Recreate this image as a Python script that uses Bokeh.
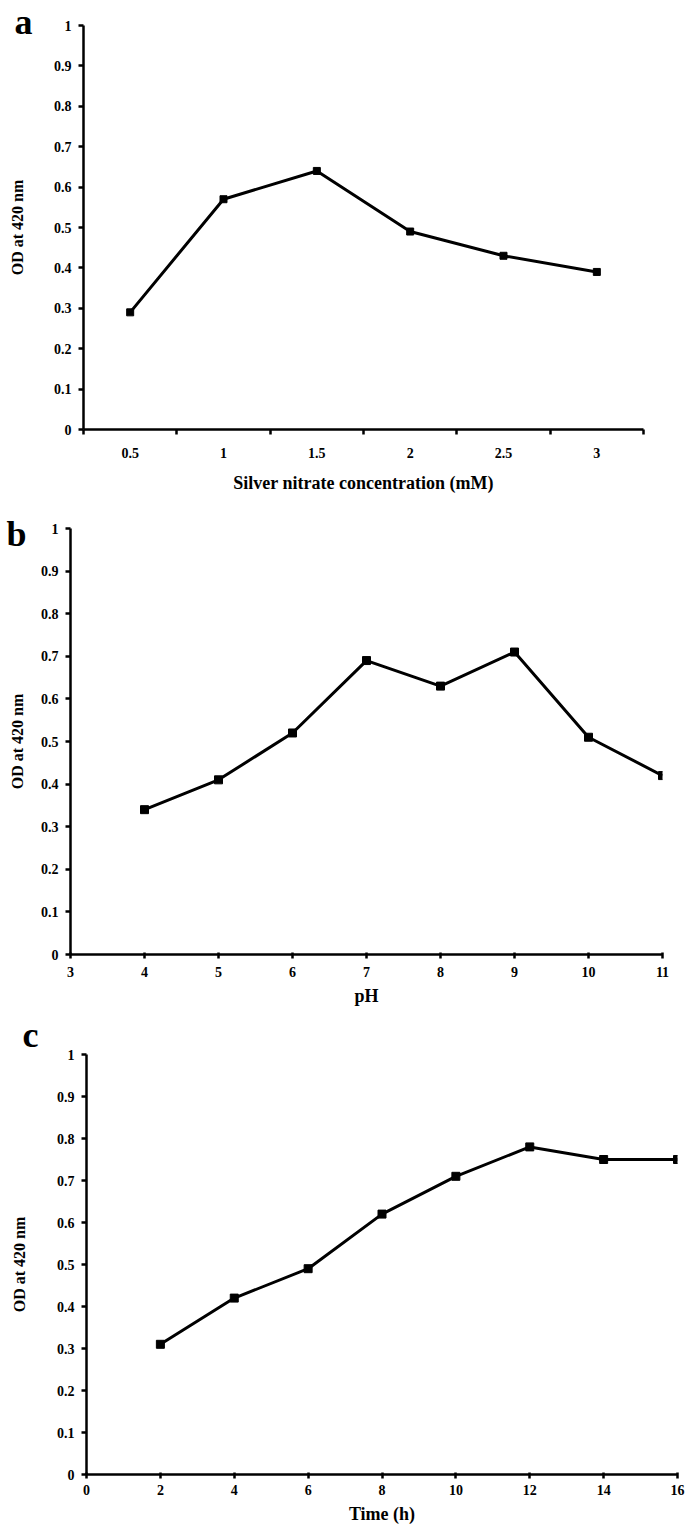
import numpy as np
from bokeh.plotting import figure
from bokeh.layouts import column, row
from bokeh.models import FixedTicker, Range1d, Title
from bokeh.embed import file_html
from bokeh.resources import INLINE

# Panel a data
conc_labels = ["0.5", "1", "1.5", "2", "2.5", "3"]
od_conc = [0.29, 0.57, 0.64, 0.49, 0.43, 0.39]
# Panel b data
ph = [4, 5, 6, 7, 8, 9, 10, 11]
od_ph = [0.34, 0.41, 0.52, 0.69, 0.63, 0.71, 0.51, 0.42]
# Panel c data
time_h = [2, 4, 6, 8, 10, 12, 14, 16]
od_time = [0.31, 0.42, 0.49, 0.62, 0.71, 0.78, 0.75, 0.75]

y_ticks = [0, 0.1, 0.2, 0.3, 0.4, 0.5, 0.6, 0.7, 0.8, 0.9, 1]
y_labels = {0: "0", 0.1: "0.1", 0.2: "0.2", 0.3: "0.3", 0.4: "0.4", 0.5: "0.5",
            0.6: "0.6", 0.7: "0.7", 0.8: "0.8", 0.9: "0.9", 1: "1"}

FONT = "Liberation Serif"
W = 685


def make_fig(height, left, right, top, bottom, x_range, xlabel, xlabel_size, ystand):
    p = figure(width=W, height=height, output_backend="svg", toolbar_location=None,
               x_range=x_range, y_range=Range1d(0, 1),
               min_border_left=left, min_border_right=right,
               min_border_top=top, min_border_bottom=bottom)
    p.outline_line_color = None
    p.grid.visible = False
    p.background_fill_color = "white"
    p.border_fill_color = "white"
    p.yaxis.ticker = FixedTicker(ticks=y_ticks)
    p.yaxis.major_label_overrides = y_labels
    for ax in (p.xaxis[0], p.yaxis[0]):
        ax.axis_line_width = 2.5
        ax.axis_line_color = "black"
        ax.major_tick_line_width = 2.5
        ax.major_tick_line_color = "black"
        ax.minor_tick_line_color = None
        ax.major_label_text_font = FONT
        ax.major_label_text_font_style = "bold"
        ax.major_label_text_font_size = "14px"
        ax.major_label_text_color = "black"
        ax.axis_label_text_font = FONT
        ax.axis_label_text_font_style = "bold"
        ax.axis_label_text_color = "black"
    p.yaxis.major_tick_in = 0
    p.yaxis.major_tick_out = 5
    p.yaxis.major_label_standoff = 7
    p.yaxis.axis_label = "OD at 420 nm"
    p.yaxis.axis_label_text_font_size = "16px"
    p.yaxis.axis_label_standoff = ystand
    p.xaxis.axis_label = xlabel
    p.xaxis.axis_label_text_font_size = xlabel_size
    return p


def add_letter(p, txt, offset, standoff):
    p.add_layout(Title(text=txt, align="left", offset=offset, standoff=standoff,
                       vertical_align="bottom",
                       text_font=FONT, text_font_style="bold", text_font_size="36px",
                       text_color="black"), "above")


# ---- Panel a ----
xa = np.arange(len(conc_labels)) + 0.5
pa = make_fig(495, 83, 42, 25, 62, Range1d(0, len(conc_labels)),
              "Silver nitrate concentration (mM)", "18px", 25)
pa.xaxis.ticker = FixedTicker(ticks=list(xa), minor_ticks=list(range(len(conc_labels) + 1)))
pa.xaxis.major_label_overrides = {float(v): l for v, l in zip(xa, conc_labels)}
pa.xaxis.major_tick_line_color = None
pa.xaxis.minor_tick_line_color = "black"
pa.xaxis.minor_tick_line_width = 2.5
pa.xaxis.minor_tick_in = 0
pa.xaxis.minor_tick_out = 5
pa.xaxis.major_label_standoff = 12
pa.xaxis.axis_label_standoff = 12
pa.line(xa, od_conc, line_width=3, color="black")
pa.scatter(xa, od_conc, marker="square", size=7, color="black")
add_letter(pa, "a", -69, -32)

# ---- Panel b ----
pb = make_fig(515, 70, 23, 33, 56, Range1d(3, 11), "pH", "18px", 12)
pb.xaxis.ticker = FixedTicker(ticks=list(range(3, 12)))
pb.xaxis.major_tick_in = 2
pb.xaxis.major_tick_out = 4
pb.xaxis.major_label_standoff = 8
pb.xaxis.axis_label_standoff = 6
pb.line(ph, od_ph, line_width=3, color="black")
pb.scatter(ph, od_ph, marker="square", size=8, color="black")
add_letter(pb, "b", -64, -50)

# ---- Panel c ----
pc = make_fig(520, 86, 8, 44, 56, Range1d(0, 16), "Time (h)", "18px", 26)
pc.xaxis.ticker = FixedTicker(ticks=list(range(0, 17, 2)))
pc.xaxis.major_tick_in = 2
pc.xaxis.major_tick_out = 4
pc.xaxis.major_label_standoff = 6
pc.xaxis.axis_label_standoff = 6
pc.line(time_h, od_time, line_width=3, color="black")
pc.scatter(time_h, od_time, marker="square", size=8, color="black")
add_letter(pc, "c", -64, 0)

layout = column(row(pa), row(pb), row(pc), spacing=0)
open("out.html", "w").write(file_html(layout, INLINE))
